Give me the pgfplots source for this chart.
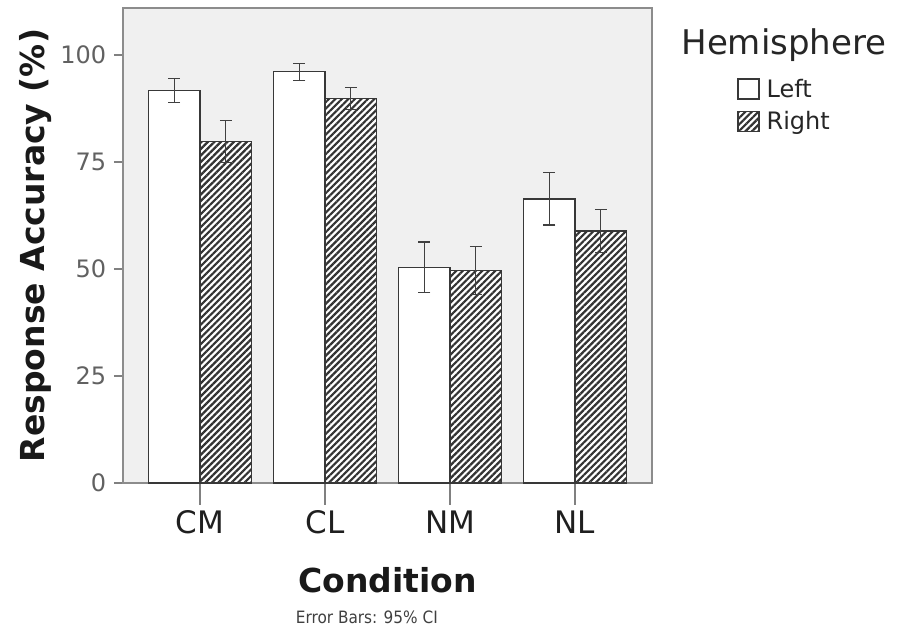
\documentclass[border=0pt]{standalone}
\usepackage{fontspec}
\setmainfont{DejaVu Sans}
\newfontfamily\condfont{DejaVu Sans Condensed}
\usepackage{pgfplots}
\usepackage{pgfplotstable}
\pgfplotsset{compat=1.18}
\usetikzlibrary{patterns.meta}

\pgfplotstableread{
x y err
0 91.7 2.8
1 96.1 2.0
2 50.4 5.9
3 66.4 6.1
}\lefttab
\pgfplotstableread{
x y err
0 79.8 4.9
1 89.9 2.6
2 49.6 5.6
3 58.9 5.0
}\righttab

\begin{document}
\begin{tikzpicture}
\useasboundingbox (-123pt,-153pt) rectangle (774pt,483pt);
\begin{axis}[
  scale only axis, width=529pt, height=475pt,
  xmin=-0.616, xmax=3.616, ymin=0, ymax=111,
  ybar, bar width=0.412,
  clip=false,
  axis background/.style={fill=black!6},
  axis line style={draw=black!45, line width=1.5pt},
  xtick={0,1,2,3}, xticklabels={CM,CL,NM,NL},
  ytick={0,25,50,75,100},
  tick align=outside, xtick pos=bottom, ytick pos=left,
  xtick style={draw=black!50, line width=1.3pt, /pgfplots/major tick length=22pt},
  ytick style={draw=black!50, line width=1.3pt, /pgfplots/major tick length=9pt},
  xticklabel shift=20pt,
  yticklabel shift=9pt,
  xticklabel style={font=\fontsize{31}{31}\selectfont, text=black!88},
  yticklabel style={font=\fontsize{24}{24}\selectfont, text=black!62},
  /pgf/number format/assume math mode=true,
  ylabel={Response Accuracy (\%)},
  ylabel style={font=\bfseries\fontsize{33}{33}\selectfont, text=black!90, at={(rel axis cs:-0.166,0.5)}, anchor=center},
  xlabel={Condition},
  xlabel style={font=\bfseries\fontsize{33}{33}\selectfont, text=black!90, at={(rel axis cs:0.5,-0.2295)}, anchor=base},
  legend style={at={(rel axis cs:1.1607,0.8525)}, anchor=north west, draw=none, fill=none,
    inner sep=0pt, row sep=11pt, column sep=7pt,
    font=\fontsize{24}{24}\selectfont,
    nodes={inner sep=0pt, text=black!85}},
  legend cell align=left,
  legend image code/.code={\draw[#1] (0pt,-10pt) rectangle (21pt,10pt);},
]
\addplot[fill=white, draw=black!78, line width=1.4pt, bar shift=-0.206,
  error bars/.cd, y dir=both, y explicit,
  error bar style={line width=1.2pt, draw=black!75},
  error mark options={rotate=90, line width=1.2pt, mark size=6pt, draw=black!75}]
  table[x=x, y=y, y error=err] {\lefttab};
\addlegendentry{Left}
\addplot[fill=white, draw=black!78, line width=1.4pt, bar shift=0.206,
  postaction={pattern={Lines[angle=45,distance=4.6pt,line width=2.2pt]}, pattern color=black!80},
  error bars/.cd, y dir=both, y explicit,
  error bar style={line width=1.2pt, draw=black!75},
  error mark options={rotate=90, line width=1.2pt, mark size=6pt, draw=black!75}]
  table[x=x, y=y, y error=err] {\righttab};
\addlegendentry{Right}
\node[font=\fontsize{34}{34}\selectfont, text=black!85, anchor=base] at (rel axis cs:1.2495,0.903) {Hemisphere};
\node[font=\condfont\fontsize{17}{17}\selectfont, text=black!75, anchor=base] at (rel axis cs:0.461,-0.295) {Error Bars: 95\% CI};
\end{axis}
\end{tikzpicture}
\end{document}
